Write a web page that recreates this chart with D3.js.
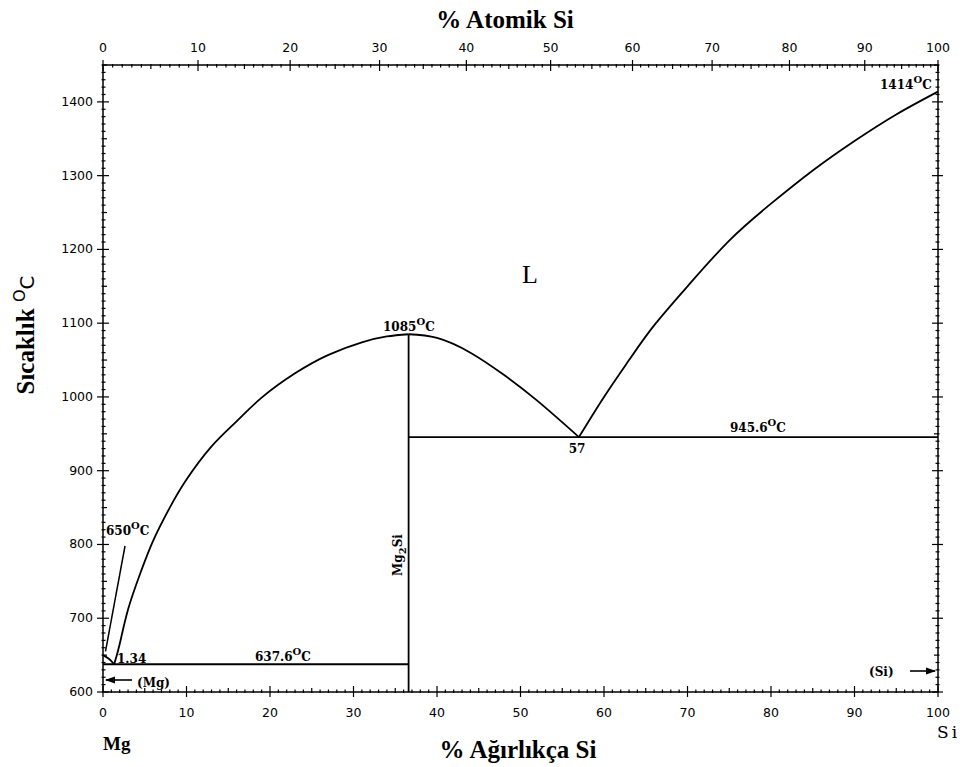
<!DOCTYPE html>
<html lang="en">
  <head>
    <meta charset="utf-8"/>
    <title>Mg-Si faz diyagramı</title>
    <script src="https://cdn.jsdelivr.net/npm/d3@7"></script>
    <style>
      body { margin: 0; background: #fff; }
      svg text { fill: #000; }
      .tick-label { font-family: "DejaVu Sans", sans-serif; font-size: 12.5px; }
      .title { font-family: "Liberation Serif", serif; font-weight: bold; font-size: 25px; }
      .note { font-family: "DejaVu Serif", serif; font-size: 12px; font-weight: bold; }
      .phase { stroke: #000; stroke-width: 1.8; fill: none; }
    </style>
  </head>
  <body>
    <div id="chart"></div>
    <script>

      // chart values (wt% Si, temperature in C)
      var mgLiquidus = [[0, 650], [0.7, 645], [1.34, 637.6]];
      var mg2siLeft = [[1.34, 637.6], [2, 665], [3, 712], [4.5, 762], [6, 805], [8, 850], [10, 888], [13, 933], [16, 967], [19, 999], [23, 1032], [27, 1057], [31, 1074], [34, 1082], [36.6, 1085]];
      var mg2siRight = [[36.6, 1085], [40, 1080], [44, 1060], [48, 1030], [52, 995], [57, 945.6]];
      var siLiquidus = [[57, 945.6], [60, 1000], [63, 1050], [66, 1097], [70, 1150], [75, 1212], [80, 1262], [85, 1307], [90, 1347], [95, 1383], [100, 1414]];
      var eutectic1 = [[0, 637.6], [36.6, 637.6]];
      var eutectic2 = [[36.6, 945.6], [100, 945.6]];
      var compoundLine = [[36.6, 600], [36.6, 1085]];

      var wtTicks = [0, 10, 20, 30, 40, 50, 60, 70, 80, 90, 100];
      var atTicks = [0, 10, 20, 30, 40, 50, 60, 70, 80, 90, 100];
      var tempTicks = [600, 700, 800, 900, 1000, 1100, 1200, 1300, 1400];

      var massMg = 24.305, massSi = 28.086;

      var w = 964, h = 767;
      var plotL = 103, plotR = 938, plotT = 65, plotB = 692;

      var svg = d3.select("#chart").append("svg")
        .attr("width", w)
        .attr("height", h);

      var x = d3.scaleLinear().domain([0, 100]).range([plotL, plotR]);
      var y = d3.scaleLinear().domain([600, 1450]).range([plotB, plotT]);

      // atomic % -> weight %
      function atToWt(a) {
        if (a <= 0) return 0;
        return 100 * a * massSi / (a * massSi + (100 - a) * massMg);
      }

      // frame
      svg.append("rect")
        .attr("x", plotL).attr("y", plotT)
        .attr("width", plotR - plotL).attr("height", plotB - plotT)
        .attr("fill", "none").attr("stroke", "#000").attr("stroke-width", 1.5);

      var tg = svg.append("g").attr("stroke", "#000");

      // bottom axis ticks (wt%)
      d3.range(0, 101, 1).forEach(function(v) {
        var len = v % 10 == 0 ? 6 : (v % 5 == 0 ? 4 : 2.5);
        tg.append("line")
          .attr("x1", x(v)).attr("x2", x(v))
          .attr("y1", plotB - len).attr("y2", plotB + (v % 10 == 0 ? 5 : 1))
          .attr("stroke-width", 1.2);
      });
      svg.selectAll(".wt-label").data(wtTicks).enter().append("text")
        .attr("class", "tick-label")
        .attr("x", function(d) { return x(d); })
        .attr("y", 717)
        .attr("text-anchor", "middle")
        .text(function(d) { return d; });

      // top axis ticks (at%)
      d3.range(0, 101, 1).forEach(function(v) {
        var len = v % 10 == 0 ? 6 : (v % 5 == 0 ? 4 : 2.5);
        var px = x(atToWt(v));
        tg.append("line")
          .attr("x1", px).attr("x2", px)
          .attr("y1", plotT - (v % 10 == 0 ? 5 : 1)).attr("y2", plotT + len)
          .attr("stroke-width", 1.2);
      });
      svg.selectAll(".at-label").data(atTicks).enter().append("text")
        .attr("class", "tick-label")
        .attr("x", function(d) { return x(atToWt(d)); })
        .attr("y", 52)
        .attr("text-anchor", "middle")
        .text(function(d) { return d; });

      // left and right temperature ticks
      d3.range(600, 1451, 10).forEach(function(v) {
        var major = v % 100 == 0;
        var len = major ? 6 : (v % 50 == 0 ? 4 : 2.5);
        tg.append("line")
          .attr("x1", plotL - (major ? 6 : 1.5)).attr("x2", plotL + len)
          .attr("y1", y(v)).attr("y2", y(v))
          .attr("stroke-width", 1.2);
        tg.append("line")
          .attr("x1", plotR - len).attr("x2", plotR + (major ? 5 : 1.5))
          .attr("y1", y(v)).attr("y2", y(v))
          .attr("stroke-width", 1.2);
      });
      svg.selectAll(".t-label").data(tempTicks).enter().append("text")
        .attr("class", "tick-label")
        .attr("x", plotL - 10)
        .attr("y", function(d) { return y(d) + 4; })
        .attr("text-anchor", "end")
        .text(function(d) { return d; });

      // phase boundaries
      var curve = d3.line()
        .x(function(d) { return x(d[0]); })
        .y(function(d) { return y(d[1]); })
        .curve(d3.curveNatural);
      var straight = d3.line()
        .x(function(d) { return x(d[0]); })
        .y(function(d) { return y(d[1]); });

      [mgLiquidus, mg2siLeft, mg2siRight, siLiquidus].forEach(function(c) {
        svg.append("path").attr("class", "phase").attr("d", curve(c));
      });
      [eutectic1, eutectic2, compoundLine].forEach(function(c) {
        svg.append("path").attr("class", "phase").attr("d", straight(c));
      });

      // labels with degree sign
      function degLabel(txt, px, py, anchor) {
        var t = svg.append("text").attr("class", "note")
          .attr("x", px).attr("y", py)
          .attr("text-anchor", anchor || "start");
        t.append("tspan").text(txt);
        t.append("tspan").attr("dy", -6).attr("font-size", 10).text("O");
        t.append("tspan").attr("dy", 6).text("C");
        return t;
      }
      degLabel("1085", 383, 331);
      degLabel("945.6", 730, 432);
      degLabel("1414", 880, 89);
      degLabel("637.6", 255, 661);
      degLabel("650", 106, 535);

      svg.append("text").attr("class", "note").attr("x", 577).attr("y", 453)
        .attr("text-anchor", "middle").text("57");
      svg.append("text").attr("class", "note").attr("x", 117).attr("y", 663).text("1.34");

      // leader line for 650 C
      svg.append("line")
        .attr("x1", 125).attr("y1", 546)
        .attr("x2", x(0.3)).attr("y2", y(655))
        .attr("stroke", "#000").attr("stroke-width", 1.5);

      // (Mg) and (Si) arrows
      svg.append("text").attr("class", "note").attr("x", 137).attr("y", 687).attr("font-size", 14).text("(Mg)");
      svg.append("line").attr("x1", 132).attr("x2", plotL + 3).attr("y1", 680).attr("y2", 680)
        .attr("stroke", "#000").attr("stroke-width", 1.6);
      svg.append("path").attr("d", "M" + (plotL + 2) + ",680 l10,-3.5 l0,7 z").attr("fill", "#000");

      svg.append("text").attr("class", "note").attr("x", 869).attr("y", 676).attr("font-size", 14).text("(Si)");
      svg.append("line").attr("x1", 910).attr("x2", plotR - 3).attr("y1", 671).attr("y2", 671)
        .attr("stroke", "#000").attr("stroke-width", 1.6);
      svg.append("path").attr("d", "M" + (plotR - 2) + ",671 l-10,-3.5 l0,7 z").attr("fill", "#000");

      // Mg2Si rotated label
      var mgsi = svg.append("text").attr("class", "note")
        .attr("transform", "translate(402,555) rotate(-90)")
        .attr("text-anchor", "middle").attr("font-size", 14);
      mgsi.append("tspan").text("Mg");
      mgsi.append("tspan").attr("dy", 4).attr("font-size", 10).text("2");
      mgsi.append("tspan").attr("dy", -4).text("Si");

      // liquid region
      svg.append("text").attr("x", 530).attr("y", 283)
        .attr("text-anchor", "middle")
        .style("font-family", "Liberation Serif, serif").style("font-size", "26px")
        .text("L");

      // element labels
      svg.append("text").attr("x", 103).attr("y", 750)
        .style("font-family", "Liberation Serif, serif").style("font-size", "19px").style("font-weight", "bold")
        .text("Mg");
      svg.append("text").attr("x", 937).attr("y", 738)
        .style("font-family", "DejaVu Serif, serif").style("font-size", "17px").style("letter-spacing", "3px")
        .text("Si");

      // axis titles
      svg.append("text").attr("class", "title")
        .attr("x", 505).attr("y", 28).attr("text-anchor", "middle")
        .text("% Atomik Si");
      svg.append("text").attr("class", "title")
        .attr("x", 518).attr("y", 758).attr("text-anchor", "middle")
        .text("% Ağırlıkça Si");
      var yt = svg.append("text").attr("class", "title")
        .attr("transform", "translate(34,335) rotate(-90)")
        .attr("text-anchor", "middle");
      yt.append("tspan").text("Sıcaklık  ");
      yt.append("tspan").attr("dy", -9).attr("font-size", 16).attr("font-weight", "normal").style("font-family", "DejaVu Sans, sans-serif").text("O");
      yt.append("tspan").attr("dy", 9).attr("font-weight", "normal").style("font-family", "DejaVu Sans, sans-serif").attr("font-size", 20).text("C");

    </script>
  </body>
</html>
